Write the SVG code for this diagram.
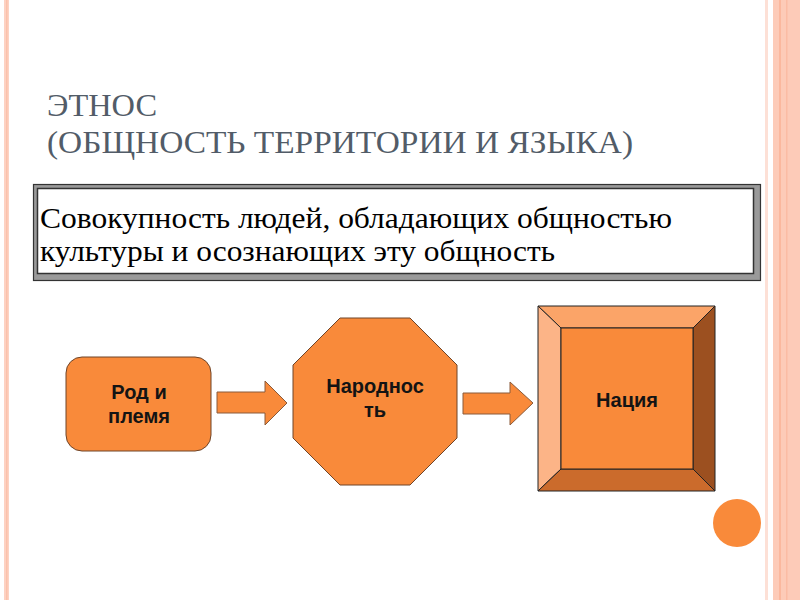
<svg xmlns="http://www.w3.org/2000/svg" width="800" height="600" viewBox="0 0 800 600">
  <style>
    .title { font-family: "Liberation Serif", "DejaVu Serif", serif; font-size: 32px; fill: #525C68; }
    .def { font-family: "Liberation Serif", "DejaVu Serif", serif; font-size: 30px; fill: #000; }
    .lbl { font-family: "Liberation Sans", Arial, sans-serif; font-size: 20px; font-weight: bold; fill: #141414; text-anchor: middle; }
    .shape { fill: #F98A3A; stroke: #6E4428; stroke-width: 1; }
    .arrow { fill: #F98A3A; stroke: #8A5A3A; stroke-width: 1; }
    .edge { stroke: #222; stroke-width: 1; stroke-linejoin: miter; }
  </style>
  <rect width="800" height="600" fill="#FFFFFF"/>
  <!-- decorative borders -->
  <g id="borders">
    <rect x="4" y="0" width="5" height="600" fill="#FDD2C3"/>
    <rect x="6" y="0" width="1.5" height="600" fill="#FBC2AC"/>
    <rect x="765" y="0" width="3" height="600" fill="#FDE0D6"/>
    <rect x="773" y="0" width="27" height="600" fill="#FDCBB8"/>
    <rect x="779" y="0" width="2" height="600" fill="#FBB89E"/>
    <rect x="786" y="0" width="1.5" height="600" fill="#FBBCA4"/>
  </g>
  <!-- title -->
  <g id="title">
    <text class="title" x="47" y="116" textLength="110" lengthAdjust="spacingAndGlyphs">ЭТНОС</text>
    <text class="title" x="47" y="153" textLength="586" lengthAdjust="spacingAndGlyphs">(ОБЩНОСТЬ ТЕРРИТОРИИ И ЯЗЫКА)</text>
  </g>
  <!-- definition box -->
  <g id="definition">
    <rect x="33.5" y="184.5" width="727" height="96" fill="#9A9A9A" stroke="#333" stroke-width="1.2"/>
    <rect x="37.5" y="188.5" width="716" height="85" fill="#FFFFFF" stroke="#333" stroke-width="1.5"/>
    <text class="def" x="40" y="228" textLength="632" lengthAdjust="spacingAndGlyphs">Совокупность людей, обладающих общностью</text>
    <text class="def" x="40" y="261" textLength="515" lengthAdjust="spacingAndGlyphs">культуры и осознающих эту общность</text>
  </g>
  <!-- nodes -->
  <g id="node-rod">
    <rect class="shape" x="66" y="357" width="145" height="94" rx="16" ry="16"/>
    <text class="lbl" x="139" y="399">Род и</text>
    <text class="lbl" x="139" y="423">племя</text>
  </g>
  <g id="node-narodnost">
    <polygon class="shape" points="340,318 410,318 457,365 457,438 410,485 340,485 293,438 293,365"/>
    <text class="lbl" x="375" y="393">Народнос</text>
    <text class="lbl" x="375" y="417">ть</text>
  </g>
  <g id="node-naciya">
    <polygon points="538,306 715,306 693,328 561,328" fill="#FBA468" class="edge"/>
    <polygon points="538,306 561,328 561,469 538,491" fill="#FCB487" class="edge"/>
    <polygon points="715,306 715,491 693,469 693,328" fill="#9C5020" class="edge"/>
    <polygon points="538,491 561,469 693,469 715,491" fill="#CB6B2C" class="edge"/>
    <rect x="561" y="328" width="132" height="141" fill="#F98A3A" class="edge"/>
    <text class="lbl" x="627" y="407">Нация</text>
  </g>
  <!-- connectors -->
  <g id="connectors">
    <polygon class="arrow" points="217,392 265,392 265,381 287,403 265,425 265,413 217,413"/>
    <polygon class="arrow" points="463,393 510,393 510,382 533,403 510,425 510,414 463,414"/>
  </g>
  <!-- decorative circle -->
  <g id="circle">
    <circle cx="737" cy="523" r="24" fill="#F98A3A"/>
  </g>
</svg>
